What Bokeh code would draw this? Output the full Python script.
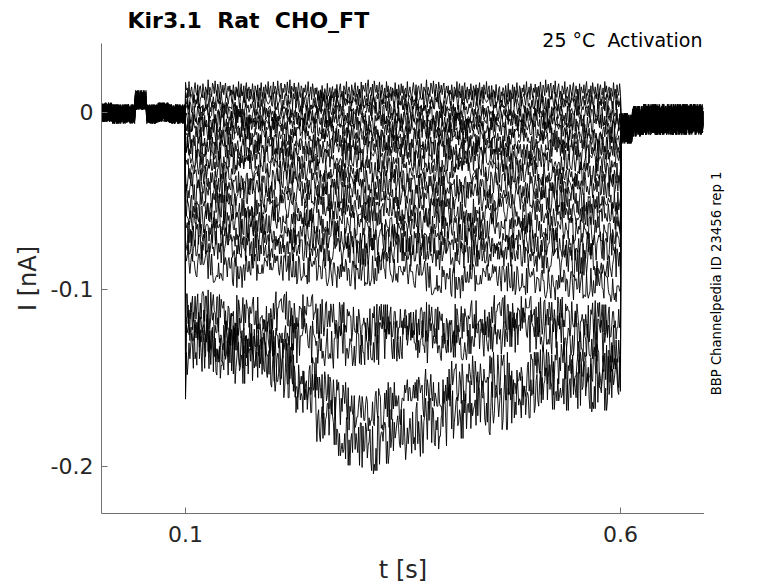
import numpy as np
from bokeh.plotting import figure
from bokeh.layouts import row
from bokeh.models import Range1d, FixedTicker, ColumnDataSource, Title, Label
from bokeh.embed import file_html
from bokeh.resources import INLINE

NB = "\u00a0"
# ---------------- texts / ticks ----------------
TITLE = "Kir3.1 " + NB + "Rat " + NB + "CHO_FT"
SUBTITLE = "25 °C " + NB + "Activation"
SIDE_NOTE = "BBP Channelpedia ID 23456 rep 1"
X_LABEL = "t [s]"
Y_LABEL = "I [nA]"
X_TICKS = [0.1, 0.6]
X_TICK_LABELS = ["0.1", "0.6"]
Y_TICKS = [-0.2, -0.1, 0.0]
Y_TICK_LABELS = ["-0.2", "-0.1", "0"]

# ---------------- protocol timing (s) ----------------
T_START = 0.0035
STEP_ON = 0.1
STEP_OFF = 0.6
DT = 0.001
N_PRE, N_PULSE, N_POST = 97, 500, 95

# ---------------- current levels (pA), one value per 25 ms of the step ----------------
T01 = [12, 13, 12, 12, 13, 12, 11, 12, 13, 12, 12, 13, 12, 12, 11, 12, 13, 12, 12, 12]
T02 = [7, 7, 8, 7, 7, 6, 7, 8, 7, 7, 6, 7, 7, 8, 7, 7, 6, 7, 7, 6]
T03 = [3, 2, 3, 3, 2, 3, 4, 3, 3, 2, 3, 3, 2, 3, 3, 2, 2, 3, 2, 2]
T04 = [-1, -1, 0, -1, -1, -2, -1, -1, 0, -1, -1, -2, -1, -1, -1, -2, -2, -1, -2, -2]
T05 = [-5, -5, -4, -5, -6, -5, -5, -4, -5, -6, -5, -5, -6, -5, -5, -6, -6, -5, -6, -6]
T06 = [-9, -10, -9, -9, -10, -9, -10, -10, -9, -10, -10, -9, -10, -11, -10, -10, -11, -10, -11, -11]
T07 = [-14, -14, -13, -14, -15, -14, -14, -15, -14, -15, -15, -14, -15, -15, -16, -15, -15, -16, -16, -16]
T08 = [-19, -20, -19, -20, -20, -19, -20, -21, -20, -20, -21, -20, -21, -21, -20, -21, -22, -21, -22, -22]
T09 = [-25, -25, -26, -25, -26, -26, -25, -26, -27, -26, -26, -27, -27, -26, -27, -28, -27, -28, -28, -28]
T10 = [-31, -32, -31, -32, -33, -32, -32, -33, -33, -32, -33, -34, -33, -34, -34, -33, -34, -35, -35, -35]
T11 = [-38, -38, -39, -39, -38, -39, -40, -39, -40, -40, -41, -40, -41, -41, -40, -41, -42, -42, -41, -42]
T12 = [-45, -46, -45, -46, -47, -46, -47, -47, -46, -47, -48, -48, -47, -48, -49, -48, -49, -49, -50, -50]
T13 = [-53, -53, -54, -53, -54, -55, -54, -55, -56, -55, -55, -56, -56, -57, -56, -57, -58, -57, -58, -58]
T14 = [-60, -61, -62, -61, -62, -63, -62, -63, -63, -64, -63, -64, -65, -64, -65, -66, -65, -66, -67, -67]
T15 = [-67, -68, -70, -69, -70, -71, -70, -71, -72, -71, -72, -73, -72, -73, -74, -73, -74, -75, -75, -76]
T16 = [-75, -76, -78, -77, -76, -77, -78, -79, -78, -77, -78, -80, -82, -80, -79, -80, -82, -84, -83, -85]
T17 = [-84, -87, -90, -88, -86, -88, -90, -92, -90, -88, -90, -94, -96, -94, -92, -94, -97, -98, -97, -99]
T18 = [-109, -112, -115, -116, -113, -112, -116, -119, -120, -119, -118, -119, -120, -118, -115, -113, -115, -116, -118, -119]
T19 = [-120, -123, -126, -128, -126, -129, -132, -132, -130, -128, -126, -129, -130, -128, -124, -123, -124, -126, -128, -130]
T20 = [-126, -132, -134, -136, -140, -149, -160, -166, -168, -166, -160, -157, -154, -151, -149, -147, -146, -143, -143, -145]
T21 = [-132, -134, -137, -139, -145, -157, -177, -185, -188, -184, -180, -174, -168, -166, -163, -160, -157, -154, -153, -154]
TRACES = [T01, T02, T03, T04, T05, T06, T07, T08, T09, T10, T11,
          T12, T13, T14, T15, T16, T17, T18, T19, T20, T21]

# first sample of the step (capacitive transient), pA
ONSET = [17, 11, 6, 2, -2, -6, -11, -16, -22, -28, -35, -42, -50, -57, -64, -72, -80,
         -140, -150, -158, -162]
# noise scale per trace (pA per noise unit)
AMP = [0.6, 0.6, 0.6, 0.65, 0.65, 0.7, 0.7, 0.75, 0.75, 0.8, 0.8, 0.85, 0.9, 0.9,
       0.95, 1.0, 1.0, 1.3, 1.4, 1.5, 1.8]
PHASE = [0, 17, 43, 88, 121, 9, 64, 101, 30, 140, 55, 77, 112, 3, 96, 128, 39, 71, 146, 22, 85]
STRIDE = [1, 2, 3, 5, 7, 11, 13, 4, 6, 8, 9, 10, 12, 14, 15, 16, 17, 18, 19, 20, 21]

# holding-level baseline before / after the step (pA per 13 ms)
PRE_LEVELS = [0, -1, -1, 7, -1, 0, -1, -1]
POST_LEVELS = [-9, -5, -4, -4, -4, -4, -4, -4]
PRE_AMP = 0.6
POST_AMP = 0.95

# recorded noise shape (arbitrary units)
NOISE = [
    3, -5, 7, -2, -8, 4, 1, -6, 9, -3,
    0, 5, -7, 2, 6, -9, -1, 4, -4, 8,
    -2, -6, 3, 7, -5, 0, -8, 5, 2, -3,
    9, -7, 1, 4, -2, -9, 6, 0, -4, 3,
    8, -6, -1, 5, -3, 2, -8, 7, -5, 4,
    0, -2, 6, -7, 3, 9, -4, -1, 2, -6,
    5, -9, 8, 1, -3, 4, -5, 0, 7, -8,
    2, 6, -2, -4, 3, -7, 9, -1, 5, -6,
    1, 4, -9, 3, 0, -5, 8, -3, 2, -7,
    6, -1, -4, 7, -2, 5, -8, 1, 3, -6,
    9, -5, 0, 4, -3, -7, 2, 8, -1, -4,
    6, -9, 3, 5, -2, -6, 7, 0, -8, 4,
    1, -3, 9, -5, 2, -1, -7, 6, 3, -4,
    8, -2, -6, 5, 0, -9, 7, 1, -3, 4,
    -5, 2, 6, -8, -1, 3, -2, 5, -4, 1,
    -3, 6, -1, -8, 4, 2, -5, 9, -6, 1,
    7, -4, -2, 5, -9, 3, 8, -7, 0, 4,
    -6, 2, -3, 7, -1, -8, 5, 1, -4, 6,
    -9, 3, 0, 8, -5, -2, 4, -7, 6, 1,
    -3, 9, -6, 2, 5, -8, -1, 7, -4, 3,
    0, -5, 8, -2, -7, 4, 6, -9, 1, -3,
    5, 2, -6, 7, -1, -4, 9, -8, 3, 0,
    -2, 6, -5, 4, -9, 1, 8, -3, -6, 5,
    2, -7, 3, -1, 6, -4, 0, 9, -5, -2,
    4, -8, 7, 1, -6, 3, -3, 5, -7, 2,
    -7,
]

# ---------------- build traces ----------------
noise = np.array(NOISE, dtype=float)
t_pre = T_START + DT * np.arange(N_PRE)
t_pulse = STEP_ON + DT * np.arange(N_PULSE + 1)
t_post = STEP_OFF + DT * (1 + np.arange(N_POST))
t_all = np.concatenate([t_pre, t_pulse, t_post])
n_total = N_PRE + N_PULSE + N_POST
rep_base = 13

xs, ys = [], []
for k, lv in enumerate(TRACES):
    idx = (PHASE[k] + STRIDE[k] * np.arange(n_total)) % len(noise)
    nz = noise[idx]
    pre = np.repeat(PRE_LEVELS, rep_base)[:N_PRE] + PRE_AMP * nz[:N_PRE]
    body = np.repeat(lv, N_PULSE // len(lv)) + AMP[k] * nz[N_PRE:N_PRE + N_PULSE]
    pulse = np.concatenate([[ONSET[k]], body])
    post = np.repeat(POST_LEVELS, rep_base)[:N_POST] + POST_AMP * nz[N_PRE + N_PULSE:]
    y = np.concatenate([pre, pulse, post]) / 1000.0
    xs.append(t_all.tolist())
    ys.append(y.tolist())

src = ColumnDataSource(data=dict(xs=xs, ys=ys))

# ---------------- main figure ----------------
FONT = "DejaVu Sans"
AX = "#262626"
Y_LO, Y_HI = -0.2266, 0.0389

p = figure(frame_width=603, frame_height=470,
           min_border_left=101, min_border_right=0, min_border_top=43, min_border_bottom=50,
           x_range=Range1d(0.0034, 0.6966), y_range=Range1d(Y_LO, Y_HI),
           output_backend="svg", toolbar_location=None, background_fill_color="white",
           border_fill_color="white")
p.outline_line_color = None
p.grid.visible = False

p.multi_line(xs="xs", ys="ys", source=src, line_color="black", line_width=0.9)

# subtitle sits closest to the frame, main title above it
sub = Title(text=SUBTITLE, align="right", offset=2, standoff=-14, text_font=FONT,
            text_font_size="19px", text_font_style="normal", text_color="black")
p.add_layout(sub, "above")

p.title.text = TITLE
p.title.text_font = FONT
p.title.text_font_size = "22px"
p.title.text_font_style = "bold"
p.title.text_color = "black"
p.title.align = "left"
p.title.offset = 26
p.title.standoff = 2

for ax in (p.xaxis[0], p.yaxis[0]):
    ax.axis_line_color = "#707070"
    ax.axis_line_width = 1
    ax.major_tick_line_color = "#707070"
    ax.major_tick_in = 6
    ax.major_tick_out = 0
    ax.minor_tick_line_color = None
    ax.major_label_text_font = FONT
    ax.major_label_text_font_size = "22px"
    ax.major_label_text_color = AX
    ax.axis_label_text_font = FONT
    ax.axis_label_text_font_size = "24px"
    ax.axis_label_text_font_style = "normal"
    ax.axis_label_text_color = AX

p.xaxis[0].ticker = FixedTicker(ticks=X_TICKS, minor_ticks=[])
p.xaxis[0].major_label_overrides = {t: s for t, s in zip(X_TICKS, X_TICK_LABELS)}
p.xaxis[0].axis_label = X_LABEL
p.xaxis[0].major_label_standoff = 12
p.xaxis[0].axis_label_standoff = 11

p.yaxis[0].ticker = FixedTicker(ticks=Y_TICKS, minor_ticks=[])
p.yaxis[0].major_label_overrides = {t: s for t, s in zip(Y_TICKS, Y_TICK_LABELS)}
p.yaxis[0].axis_label = Y_LABEL
p.yaxis[0].major_label_standoff = 8
p.yaxis[0].axis_label_standoff = 6

# ---------------- narrow side strip carrying the vertical note ----------------
side = figure(frame_width=50, frame_height=470, min_border_left=0, min_border_right=0,
              min_border_top=43, min_border_bottom=0,
              x_range=Range1d(0, 50), y_range=Range1d(Y_LO, Y_HI),
              x_axis_type=None, y_axis_type=None,
              output_backend="svg", toolbar_location=None,
              background_fill_color="white", border_fill_color="white")
side.outline_line_color = None
side.grid.visible = False
side.add_layout(Label(x=12, y=(Y_LO + Y_HI) / 2 - 0.0028, text=SIDE_NOTE, angle=np.pi / 2,
                      text_align="center", text_baseline="middle", text_font=FONT,
                      text_font_size="13.2px", text_color="black"))

layout = row(p, side)
open("out.html", "w").write(file_html(layout, INLINE))
